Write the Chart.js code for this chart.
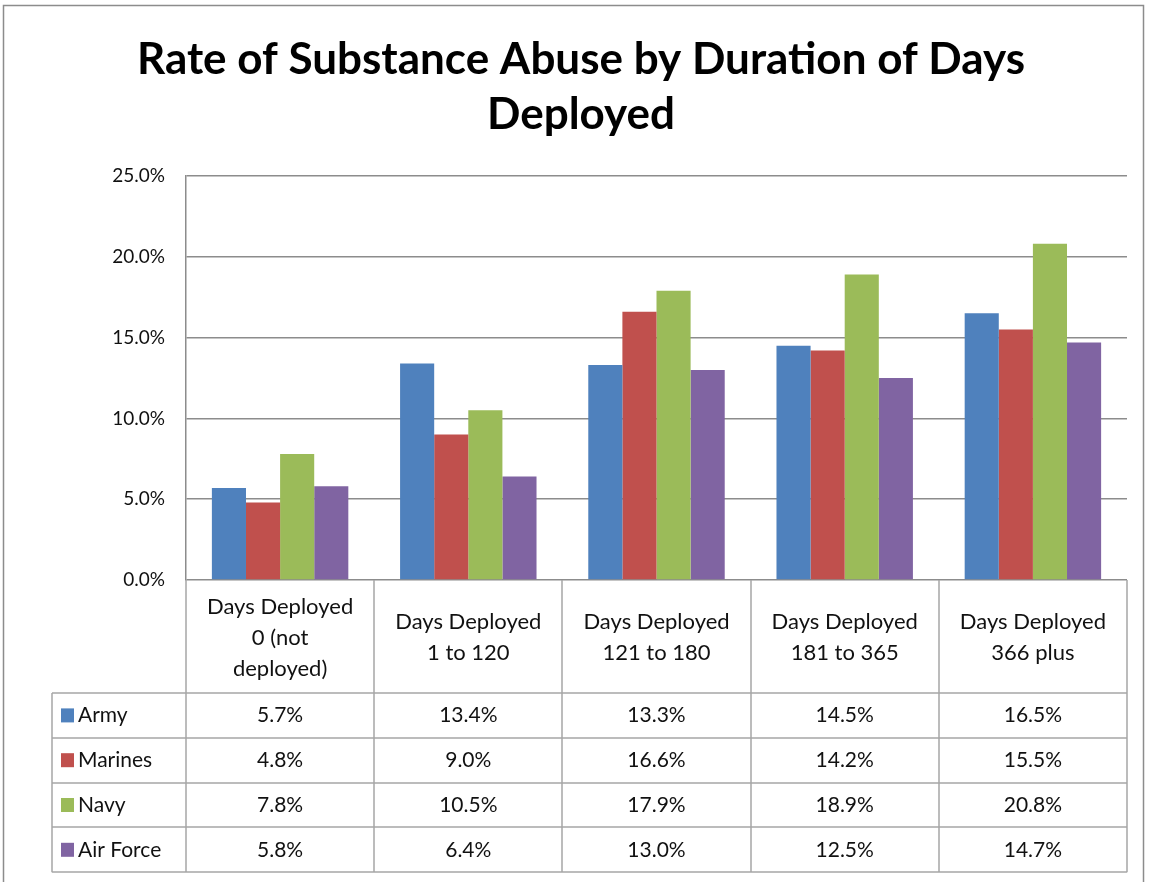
<!DOCTYPE html>
<html lang="en">
<head>
<meta charset="UTF-8">
<title>Rate of Substance Abuse by Duration of Days Deployed</title>
<script src="https://cdn.jsdelivr.net/npm/chart.js"></script>
<style>
    html, body { margin: 0; padding: 0; background: #fff; }
    canvas { display: block; }
</style>
</head>
<body>
<canvas id="barChart" width="1151" height="882"></canvas>
<script>
    // Chart data
    const titleLines = ['Rate of Substance Abuse by Duration of Days', 'Deployed'];
    const categories = [
        ['Days Deployed', '0 (not', 'deployed)'],
        ['Days Deployed', '1 to 120'],
        ['Days Deployed', '121 to 180'],
        ['Days Deployed', '181 to 365'],
        ['Days Deployed', '366 plus']
    ];
    const seriesNames = ['Army', 'Marines', 'Navy', 'Air Force'];
    const army = [5.7, 13.4, 13.3, 14.5, 16.5];
    const marines = [4.8, 9.0, 16.6, 14.2, 15.5];
    const navy = [7.8, 10.5, 17.9, 18.9, 20.8];
    const airForce = [5.8, 6.4, 13.0, 12.5, 14.7];
    const seriesColors = ['#4F81BD', '#C0504D', '#9BBB59', '#8064A2'];
    const yMin = 0, yMax = 25, yStep = 5;

    const seriesValues = [army, marines, navy, airForce];
    const FONT = 'Lato, "Open Sans", sans-serif';
    const fmt = v => v.toFixed(1) + '%';

    // title, frame and data table drawn on the canvas
    const extrasPlugin = {
        id: 'extras',
        afterDraw(chart) {
            const ctx = chart.ctx;
            const area = chart.chartArea;
            const step = (area.right - area.left) / categories.length;
            const headerBottom = 693, rowH = 44.8, labelLeft = 52;
            const tableBottom = headerBottom + rowH * seriesNames.length;

            ctx.save();
            // outer frame
            ctx.strokeStyle = '#8c8c8c';
            ctx.lineWidth = 1.5;
            ctx.strokeRect(3.5, 5.5, 1140, 890);

            // title
            ctx.fillStyle = '#000';
            ctx.textAlign = 'center';
            ctx.textBaseline = 'middle';
            ctx.font = 'bold 44px ' + FONT;
            titleLines.forEach((t, i) => ctx.fillText(t, 581, 60 + i * 55));

            // table grid
            ctx.strokeStyle = '#a6a6a6';
            ctx.lineWidth = 1.5;
            ctx.beginPath();
            for (let i = 0; i <= categories.length; i++) {
                const px = Math.round(area.left + i * step);
                ctx.moveTo(px, area.bottom);
                ctx.lineTo(px, tableBottom);
            }
            ctx.moveTo(labelLeft, headerBottom);
            ctx.lineTo(labelLeft, tableBottom);
            for (let r = 0; r <= seriesNames.length; r++) {
                const py = Math.round(headerBottom + r * rowH);
                ctx.moveTo(labelLeft, py);
                ctx.lineTo(area.right, py);
            }
            ctx.stroke();

            // header labels
            ctx.fillStyle = '#111';
            ctx.font = '22px ' + FONT;
            const headerMid = (area.bottom + headerBottom) / 2 + 1;
            categories.forEach((lines, i) => {
                const cx = chart.scales.x.getPixelForValue(i);
                const y0 = headerMid - (lines.length - 1) * 31 / 2;
                lines.forEach((l, j) => ctx.fillText(l, cx, y0 + j * 31));
            });

            // rows
            ctx.font = '21px ' + FONT;
            seriesNames.forEach((name, r) => {
                const cy = headerBottom + r * rowH + rowH / 2;
                ctx.fillStyle = seriesColors[r];
                ctx.fillRect(labelLeft + 9, cy - 7, 13, 14);
                ctx.fillStyle = '#111';
                ctx.textAlign = 'left';
                ctx.fillText(name, labelLeft + 26, cy);
                ctx.textAlign = 'center';
                seriesValues[r].forEach((v, i) => {
                    ctx.fillText(fmt(v), chart.scales.x.getPixelForValue(i), cy);
                });
            });
            ctx.restore();
        }
    };

    new Chart(document.getElementById('barChart'), {
        type: 'bar',
        data: {
            labels: categories,
            datasets: seriesNames.map((name, i) => ({
                label: name,
                data: seriesValues[i],
                backgroundColor: seriesColors[i],
                borderWidth: 0,
                barPercentage: 1,
                categoryPercentage: 0.725
            }))
        },
        options: {
            responsive: false,
            animation: false,
            layout: { padding: { top: 176, bottom: 302, left: 0, right: 24 } },
            scales: {
                x: { display: false },
                y: {
                    min: yMin,
                    max: yMax,
                    afterFit(scale) { scale.width = 186; },
                    ticks: {
                        stepSize: yStep,
                        padding: 21,
                        color: '#111',
                        font: { family: FONT, size: 19 },
                        callback: v => fmt(v)
                    },
                    grid: { color: '#8c8c8c', lineWidth: 1.5, drawTicks: false },
                    border: { color: '#8c8c8c', width: 1.5 }
                }
            },
            plugins: {
                legend: { display: false },
                tooltip: { enabled: false },
                title: { display: false }
            }
        },
        plugins: [extrasPlugin]
    });
</script>
</body>
</html>
